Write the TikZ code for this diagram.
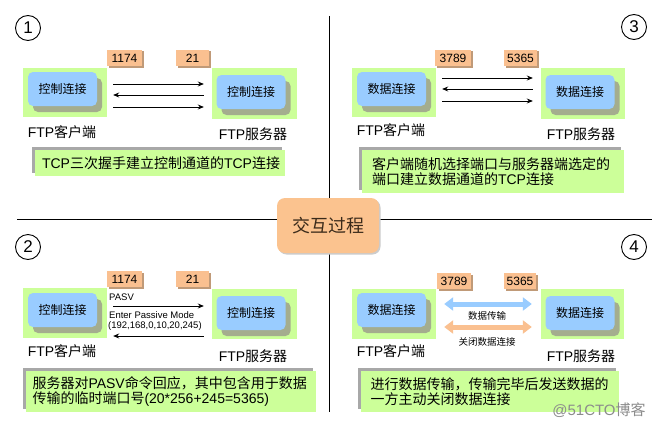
\documentclass[tikz,border=0pt]{standalone}
\usepackage{fontspec}
\setmainfont{Noto Sans CJK SC}
\newfontfamily\lat{Liberation Sans}
\usetikzlibrary{shadows,arrows.meta}
\definecolor{lg}{HTML}{CCFF99}
\definecolor{lb}{HTML}{99CCFF}
\definecolor{po}{HTML}{FAC090}
\definecolor{pd}{HTML}{C09A78}
\definecolor{sg}{HTML}{A4AD8E}
\definecolor{cg}{HTML}{A8A8A8}
\definecolor{ctrfill}{HTML}{FBC38F}
\definecolor{ctrtext}{HTML}{3A2A1A}
\begin{document}
\begin{tikzpicture}[x=1pt,y=-1pt,
  gbox/.style={fill=lg, draw=none, inner sep=0},
  bbox/.style={fill=lb, rounded corners=5pt, inner sep=0, minimum width=69pt, minimum height=34pt,
    font=\fontsize{12}{14}\selectfont,
    drop shadow={shadow xshift=5pt, shadow yshift=-6pt, fill=sg, opacity=1}},
  portbox/.style={fill=po, inner sep=0, minimum height=16pt, font=\lat\fontsize{12}{13}\selectfont,
    drop shadow={shadow xshift=1.5pt, shadow yshift=-1.5pt, fill=pd, opacity=1}},
  lbl/.style={font=\fontsize{14}{16}\selectfont, inner sep=0},
  capbox/.style={fill=lg, inner xsep=7pt, inner ysep=0, align=left, font=\fontsize{14}{15.5}\selectfont,
    drop shadow={shadow xshift=-3pt, shadow yshift=3pt, fill=cg, opacity=1}},
  numc/.style={circle, draw, line width=0.9pt, minimum size=25pt, inner sep=0, font=\lat\fontsize{17}{17}\selectfont},
  arr/.style={line width=0.8pt, -{Stealth[length=6pt,width=5pt]}},
  smalltxt/.style={font=\lat\fontsize{9.5}{10}\selectfont, inner sep=0, anchor=west},
  tinytxt/.style={font=\fontsize{9.5}{10}\selectfont, inner sep=0},
  fat/.style={line width=5pt, draw=#1, {Triangle[length=9pt,width=13pt,fill=#1]}-{Triangle[length=9pt,width=13pt,fill=#1]}},
  ctrbox/.style={fill=ctrfill, rounded corners=8pt, inner sep=0, minimum width=102pt, minimum height=55pt,
    font=\fontsize{18}{20}\selectfont, text=ctrtext,
    drop shadow={shadow xshift=1.5pt, shadow yshift=-1.5pt, fill=black!20, opacity=1}}
]
\useasboundingbox (0,0) rectangle (658,428);
\fill[white] (0,0) rectangle (658,428);

% quadrant lines
\coordinate (vt) at (329,16);
\coordinate (vb) at (329,412);
\coordinate (hl) at (17,219);
\coordinate (hr) at (652,219);
\draw[line width=0.8pt] (vt) -- (vb);
\draw[line width=0.8pt] (hl) -- (hr);
\node[ctrbox] (ctr) at (328,225.5) {交互过程};

% ---------- Quadrant 1 ----------
\node[numc] (n1) at (28,28) {1};
\node[gbox, minimum width=84pt, minimum height=49pt] (c1g) at (65,92.5) {};
\node[bbox] (c1b) at (62.5,89) {控制连接};
\node[gbox, minimum width=85pt, minimum height=51pt] (s1g) at (254.5,93.5) {};
\node[bbox] (s1b) at (251,92) {控制连接};
\node[portbox, minimum width=35pt] (p1a) at (124.5,58) {1174};
\node[portbox, minimum width=33pt] (p1b) at (192.5,58) {21};
\draw[arr] ([xshift=6pt]c1g.east |- 0,84) -- ([xshift=-8pt]s1g.west |- 0,84);
\draw[arr] ([xshift=-8pt]s1g.west |- 0,95) -- ([xshift=6pt]c1g.east |- 0,95);
\draw[arr] ([xshift=6pt]c1g.east |- 0,107) -- ([xshift=-8pt]s1g.west |- 0,107);
\node[lbl] (c1l) at (62,132) {{\lat FTP}客户端};
\node[lbl] (s1l) at (253,134) {{\lat FTP}服务器};
\node[capbox, minimum width=250pt, minimum height=26pt, text width=236pt] (cap1) at (160,163)
  {{\lat TCP}三次握手建立控制通道的{\lat TCP}连接};

% ---------- Quadrant 3 ----------
\node[numc] (n3) at (634,27) {3};
\node[gbox, minimum width=84pt, minimum height=49pt] (c3g) at (394,92.5) {};
\node[bbox] (c3b) at (391.5,89) {数据连接};
\node[gbox, minimum width=84pt, minimum height=51pt] (s3g) at (583,93.5) {};
\node[bbox] (s3b) at (580,92) {数据连接};
\node[portbox, minimum width=36pt] (p3a) at (453,58) {3789};
\node[portbox, minimum width=33pt] (p3b) at (520.5,58) {5365};
\draw[arr] ([xshift=6pt]c3g.east |- 0,78) -- ([xshift=-8pt]s3g.west |- 0,78);
\draw[arr] ([xshift=-8pt]s3g.west |- 0,89) -- ([xshift=6pt]c3g.east |- 0,89);
\draw[arr] ([xshift=6pt]c3g.east |- 0,101) -- ([xshift=-8pt]s3g.west |- 0,101);
\node[lbl] (c3l) at (391,130) {{\lat FTP}客户端};
\node[lbl] (s3l) at (581,134) {{\lat FTP}服务器};
\node[capbox, inner xsep=10pt, minimum width=262pt, minimum height=43pt, text width=242pt] (cap3) at (493,171.5)
  {客户端随机选择端口与服务器端选定的\\端口建立数据通道的{\lat TCP}连接};

% ---------- Quadrant 2 ----------
\node[numc] (n2) at (28,247) {2};
\node[gbox, minimum width=84pt, minimum height=50pt] (c2g) at (65,313) {};
\node[bbox] (c2b) at (62.5,310) {控制连接};
\node[gbox, minimum width=85pt, minimum height=50pt] (s2g) at (254.5,314) {};
\node[bbox] (s2b) at (251,313) {控制连接};
\node[portbox, minimum width=35pt] (p2a) at (124.5,279) {1174};
\node[portbox, minimum width=33pt] (p2b) at (192.5,279) {21};
\draw[arr] ([xshift=6pt]c2g.east |- 0,306) -- ([xshift=-8pt]s2g.west |- 0,306);
\draw[arr] ([xshift=-8pt]s2g.west |- 0,336) -- ([xshift=6pt]c2g.east |- 0,336);
\node[smalltxt] (pasv) at (109,297) {PASV};
\node[smalltxt] (epm) at (109,315) {Enter Passive Mode};
\node[smalltxt] (addr) at (108,326) {(192,168,0,10,20,245)};
\node[lbl] (c2l) at (62,351) {{\lat FTP}客户端};
\node[lbl] (s2l) at (253,356) {{\lat FTP}服务器};
\node[capbox, minimum width=285pt, minimum height=41pt, text width=276pt] (cap2) at (170.5,391.5)
  {服务器对{\lat PASV}命令回应，其中包含用于数据\\传输的临时端口号{\lat (20*256+245=5365)}};

% ---------- Quadrant 4 ----------
\node[numc] (n4) at (634,247) {4};
\node[gbox, minimum width=84pt, minimum height=50pt] (c4g) at (394,314) {};
\node[bbox] (c4b) at (391.5,310) {数据连接};
\node[gbox, minimum width=83pt, minimum height=50pt] (s4g) at (582.5,314) {};
\node[bbox] (s4b) at (580,313) {数据连接};
\node[portbox, minimum width=34pt] (p4a) at (454,281) {3789};
\node[portbox, minimum width=32pt] (p4b) at (520,281) {5365};
\draw[fat=lb] ([xshift=8pt]c4g.east |- 0,304) -- ([xshift=-9pt]s4g.west |- 0,304);
\node[tinytxt] (dt) at (487,316) {数据传输};
\draw[fat=po] ([xshift=8pt]c4g.east |- 0,327) -- ([xshift=-9pt]s4g.west |- 0,327);
\node[tinytxt] (gb) at (487,342) {关闭数据连接};
\node[lbl] (c4l) at (391,351) {{\lat FTP}客户端};
\node[lbl] (s4l) at (581,356) {{\lat FTP}服务器};
\node[capbox, inner xsep=10pt, minimum width=255pt, minimum height=41pt, text width=238pt] (cap4) at (489.5,391.5)
  {进行数据传输，传输完毕后发送数据的\\一方主动关闭数据连接};
\node[font=\fontsize{15}{16}\selectfont, text=black!45, inner sep=0] (wm) at (599,410) {{\lat @51CTO}博客};
\end{tikzpicture}
\end{document}
